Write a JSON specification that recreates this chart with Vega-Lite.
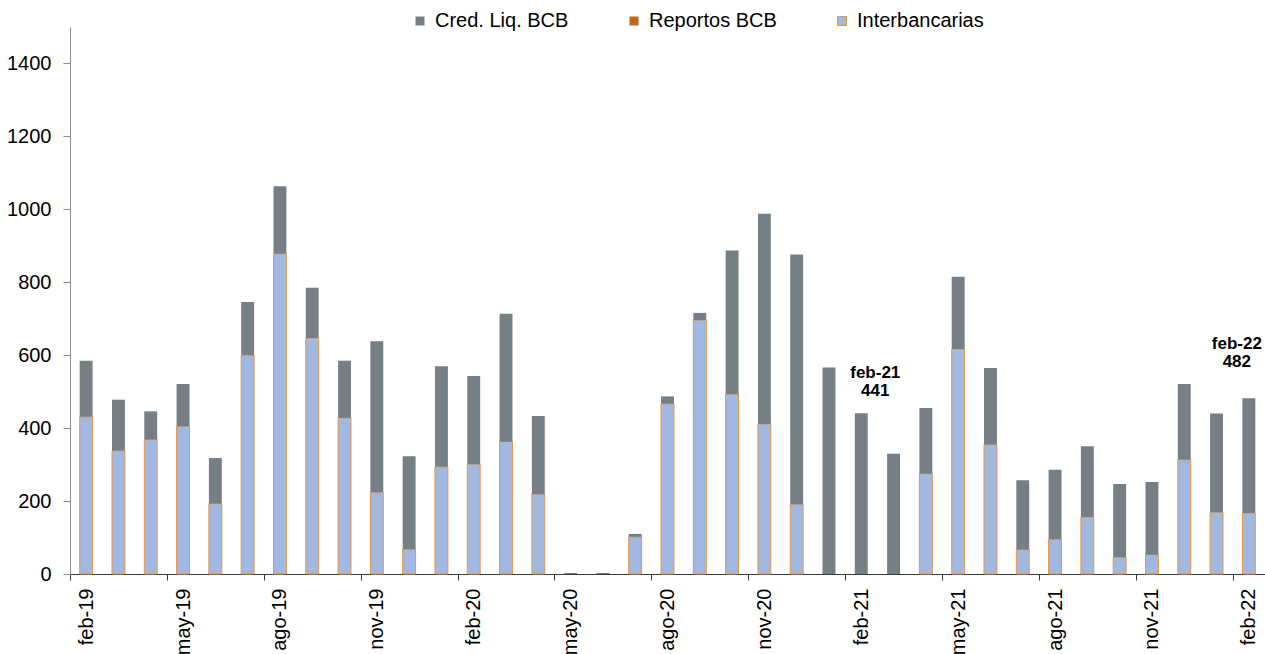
{
  "$schema": "https://vega.github.io/schema/vega-lite/v6.json",
  "width": 1195,
  "height": 547,
  "autosize": {"type": "none"},
  "padding": {"left": 70, "top": 27, "right": 0, "bottom": 80},
  "background": "white",
  "config": {
    "view": {"stroke": null},
    "font": "Liberation Sans"
  },
  "datasets": {
    "bancos": [
      {"mes": "feb-19", "serie": "Interbancarias", "valor": 431}, {"mes": "feb-19", "serie": "Cred. Liq. BCB", "valor": 154},
      {"mes": "mar-19", "serie": "Interbancarias", "valor": 338}, {"mes": "mar-19", "serie": "Cred. Liq. BCB", "valor": 140},
      {"mes": "abr-19", "serie": "Interbancarias", "valor": 369}, {"mes": "abr-19", "serie": "Cred. Liq. BCB", "valor": 77},
      {"mes": "may-19", "serie": "Interbancarias", "valor": 405}, {"mes": "may-19", "serie": "Cred. Liq. BCB", "valor": 116},
      {"mes": "jun-19", "serie": "Interbancarias", "valor": 193}, {"mes": "jun-19", "serie": "Cred. Liq. BCB", "valor": 125},
      {"mes": "jul-19", "serie": "Interbancarias", "valor": 600}, {"mes": "jul-19", "serie": "Cred. Liq. BCB", "valor": 146},
      {"mes": "ago-19", "serie": "Interbancarias", "valor": 878}, {"mes": "ago-19", "serie": "Cred. Liq. BCB", "valor": 185},
      {"mes": "sep-19", "serie": "Interbancarias", "valor": 647}, {"mes": "sep-19", "serie": "Cred. Liq. BCB", "valor": 138},
      {"mes": "oct-19", "serie": "Interbancarias", "valor": 428}, {"mes": "oct-19", "serie": "Cred. Liq. BCB", "valor": 157},
      {"mes": "nov-19", "serie": "Interbancarias", "valor": 224}, {"mes": "nov-19", "serie": "Cred. Liq. BCB", "valor": 414},
      {"mes": "dic-19", "serie": "Interbancarias", "valor": 68}, {"mes": "dic-19", "serie": "Cred. Liq. BCB", "valor": 255},
      {"mes": "ene-20", "serie": "Interbancarias", "valor": 294}, {"mes": "ene-20", "serie": "Cred. Liq. BCB", "valor": 276},
      {"mes": "feb-20", "serie": "Interbancarias", "valor": 301}, {"mes": "feb-20", "serie": "Cred. Liq. BCB", "valor": 242},
      {"mes": "mar-20", "serie": "Interbancarias", "valor": 363}, {"mes": "mar-20", "serie": "Cred. Liq. BCB", "valor": 351},
      {"mes": "abr-20", "serie": "Interbancarias", "valor": 219}, {"mes": "abr-20", "serie": "Cred. Liq. BCB", "valor": 214},
      {"mes": "may-20", "serie": "Cred. Liq. BCB", "valor": 3},
      {"mes": "jun-20", "serie": "Cred. Liq. BCB", "valor": 3},
      {"mes": "jul-20", "serie": "Interbancarias", "valor": 102}, {"mes": "jul-20", "serie": "Cred. Liq. BCB", "valor": 8},
      {"mes": "ago-20", "serie": "Interbancarias", "valor": 467}, {"mes": "ago-20", "serie": "Cred. Liq. BCB", "valor": 20},
      {"mes": "sep-20", "serie": "Interbancarias", "valor": 696}, {"mes": "sep-20", "serie": "Cred. Liq. BCB", "valor": 20},
      {"mes": "oct-20", "serie": "Interbancarias", "valor": 493}, {"mes": "oct-20", "serie": "Cred. Liq. BCB", "valor": 394},
      {"mes": "nov-20", "serie": "Interbancarias", "valor": 411}, {"mes": "nov-20", "serie": "Cred. Liq. BCB", "valor": 577},
      {"mes": "dic-20", "serie": "Interbancarias", "valor": 191}, {"mes": "dic-20", "serie": "Cred. Liq. BCB", "valor": 685},
      {"mes": "ene-21", "serie": "Cred. Liq. BCB", "valor": 566},
      {"mes": "feb-21", "serie": "Cred. Liq. BCB", "valor": 441},
      {"mes": "mar-21", "serie": "Cred. Liq. BCB", "valor": 330},
      {"mes": "abr-21", "serie": "Interbancarias", "valor": 275}, {"mes": "abr-21", "serie": "Cred. Liq. BCB", "valor": 180},
      {"mes": "may-21", "serie": "Interbancarias", "valor": 617}, {"mes": "may-21", "serie": "Cred. Liq. BCB", "valor": 198},
      {"mes": "jun-21", "serie": "Interbancarias", "valor": 355}, {"mes": "jun-21", "serie": "Cred. Liq. BCB", "valor": 210},
      {"mes": "jul-21", "serie": "Interbancarias", "valor": 67}, {"mes": "jul-21", "serie": "Cred. Liq. BCB", "valor": 190},
      {"mes": "ago-21", "serie": "Interbancarias", "valor": 95}, {"mes": "ago-21", "serie": "Cred. Liq. BCB", "valor": 191},
      {"mes": "sep-21", "serie": "Interbancarias", "valor": 156}, {"mes": "sep-21", "serie": "Cred. Liq. BCB", "valor": 194},
      {"mes": "oct-21", "serie": "Interbancarias", "valor": 46}, {"mes": "oct-21", "serie": "Cred. Liq. BCB", "valor": 201},
      {"mes": "nov-21", "serie": "Interbancarias", "valor": 53}, {"mes": "nov-21", "serie": "Cred. Liq. BCB", "valor": 199},
      {"mes": "dic-21", "serie": "Interbancarias", "valor": 314}, {"mes": "dic-21", "serie": "Cred. Liq. BCB", "valor": 207},
      {"mes": "ene-22", "serie": "Interbancarias", "valor": 169}, {"mes": "ene-22", "serie": "Cred. Liq. BCB", "valor": 271},
      {"mes": "feb-22", "serie": "Interbancarias", "valor": 167}, {"mes": "feb-22", "serie": "Cred. Liq. BCB", "valor": 315}
    ],
    "notas": [
      {"mes": "feb-21", "total": 441, "texto": "feb-21\n441"},
      {"mes": "feb-22", "total": 482, "texto": "feb-22\n482"}
    ]
  },
  "encoding": {
    "x": {
      "field": "mes",
      "type": "ordinal",
      "scale": {
        "domain": ["feb-19","mar-19","abr-19","may-19","jun-19","jul-19","ago-19","sep-19","oct-19","nov-19","dic-19","ene-20","feb-20","mar-20","abr-20","may-20","jun-20","jul-20","ago-20","sep-20","oct-20","nov-20","dic-20","ene-21","feb-21","mar-21","abr-21","may-21","jun-21","jul-21","ago-21","sep-21","oct-21","nov-21","dic-21","ene-22","feb-22"],
        "paddingInner": 0.6,
        "paddingOuter": 0.3
      },
      "axis": {
        "title": null,
        "values": ["feb-19","may-19","ago-19","nov-19","feb-20","may-20","ago-20","nov-20","feb-21","may-21","ago-21","nov-21","feb-22"],
        "tickOffset": -16.15,
        "labelOffset": 16.15,
        "labelAngle": -90,
        "labelFontSize": 20,
        "labelColor": "#000000",
        "labelPadding": 8,
        "tickSize": 6,
        "tickColor": "#3a3a3a",
        "domainColor": "#3a3a3a",
        "grid": false
      }
    }
  },
  "layer": [
    {
      "data": {"name": "bancos"},
      "mark": {"type": "bar", "strokeWidth": 1},
      "encoding": {
        "y": {
          "field": "valor",
          "type": "quantitative",
          "stack": "zero",
          "scale": {"domain": [0, 1500], "nice": false},
          "axis": {
            "title": null,
            "format": "d",
            "values": [0, 200, 400, 600, 800, 1000, 1200, 1400],
            "labelFontSize": 20,
            "labelColor": "#000000",
            "labelPadding": 12,
            "tickSize": 7,
            "tickColor": "#8a8a8a",
            "domainColor": "#8a8a8a",
            "grid": false
          }
        },
        "color": {
          "field": "serie",
          "type": "nominal",
          "scale": {
            "domain": ["Cred. Liq. BCB", "Reportos BCB", "Interbancarias"],
            "range": ["#767F83", "#C0661A", "#A1B8E1"]
          },
          "legend": {
            "title": null,
            "orient": "none",
            "direction": "horizontal",
            "legendX": 340,
            "legendY": -16,
            "padding": 0,
            "symbolType": "square",
            "symbolSize": 81,
            "symbolStrokeWidth": 1,
            "labelFontSize": 20,
            "labelColor": "#000000",
            "labelOffset": 5,
            "columnPadding": 55
          }
        },
        "stroke": {
          "field": "serie",
          "type": "nominal",
          "scale": {
            "domain": ["Cred. Liq. BCB", "Reportos BCB", "Interbancarias"],
            "range": ["transparent", "transparent", "#EB9440"]
          }
        },
        "order": {"field": "serie", "sort": "descending"}
      }
    },
    {
      "data": {"name": "notas"},
      "transform": [{"filter": "datum.mes === 'feb-21'"}],
      "mark": {"type": "text", "font": "Liberation Sans", "fontWeight": "bold", "fontSize": 17, "lineBreak": "\n", "lineHeight": 18, "align": "center", "baseline": "bottom", "dx": 14, "dy": -31, "color": "#000000"},
      "encoding": {
        "y": {"field": "total", "type": "quantitative"},
        "text": {"field": "texto"}
      }
    },
    {
      "data": {"name": "notas"},
      "transform": [{"filter": "datum.mes === 'feb-22'"}],
      "mark": {"type": "text", "font": "Liberation Sans", "fontWeight": "bold", "fontSize": 17, "lineBreak": "\n", "lineHeight": 18, "align": "center", "baseline": "bottom", "dx": -12, "dy": -45, "color": "#000000"},
      "encoding": {
        "y": {"field": "total", "type": "quantitative"},
        "text": {"field": "texto"}
      }
    }
  ]
}
